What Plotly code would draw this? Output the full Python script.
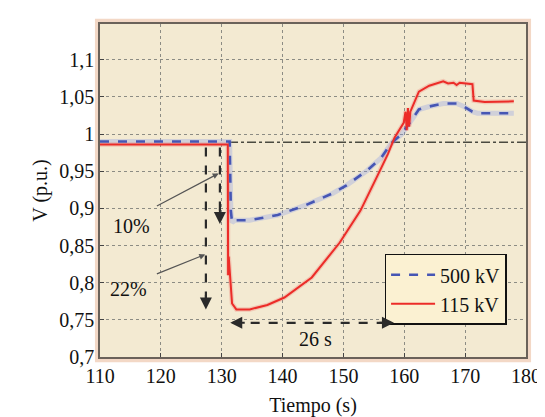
import plotly.graph_objects as go

# ---- data ----
t_500 = [110, 130.9, 131.3, 131.5, 131.7, 132.2, 134.6, 139.2, 143.7, 148.2, 150.5,
         153.9, 156.2, 157.9, 159.6, 160.7, 162.4, 164.1, 166.4, 168.6, 169.8,
         171.2, 172.0, 178.0]
v_500 = [0.990, 0.990, 0.990, 0.897, 0.881, 0.884, 0.884, 0.891, 0.904, 0.920, 0.931,
         0.951, 0.968, 0.988, 1.000, 1.013, 1.033, 1.037, 1.041, 1.041, 1.037,
         1.030, 1.028, 1.028]

t_115 = [110, 131.0, 131.05, 131.15, 131.7, 132.4, 134.6, 137.5, 140.3, 144.8, 149.4,
         152.8, 155.6, 157.3, 158.4, 159.9, 160.2, 160.4, 160.6, 160.8, 161.0, 161.6,
         162.4, 164.1, 166.4, 167.2, 168.1, 168.6, 169.1, 171.2, 171.4, 173.2, 178.0]
v_115 = [0.986, 0.986, 0.810, 0.835, 0.772, 0.764, 0.764, 0.770, 0.780, 0.807, 0.854,
         0.897, 0.944, 0.973, 0.995, 1.015, 1.030, 1.005, 1.035, 1.010, 1.030, 1.041,
         1.057, 1.065, 1.071, 1.068, 1.069, 1.066, 1.069, 1.067, 1.045, 1.043, 1.044]

ref_t = [131.2, 180]
ref_v = [0.989, 0.989]

arrow22_t = [127.4, 127.4]
arrow22_v = [0.982, 0.775]
arrow10_t = [129.7, 129.7]
arrow10_v = [0.982, 0.890]
span_t = [131.8, 157.9]
span_v = [0.746, 0.746]

x_ticks = [110, 120, 130, 140, 150, 160, 170, 180]
y_ticks = [0.7, 0.75, 0.8, 0.85, 0.9, 0.95, 1.0, 1.05, 1.1]
y_labels = ["0,7", "0,75", "0,8", "0,85", "0,9", "0,95", "1", "1,05", "1,1"]

labels = ["10%", "22%", "26 s"]
label_t = [115.1, 114.7, 145.4]
label_v = [0.876, 0.791, 0.724]

FONT = "Liberation Serif"
BG = "#F3EAD2"
FS = 20

fig = go.Figure()

fig.add_trace(go.Scatter(x=ref_t, y=ref_v, mode="lines", showlegend=False,
                         line=dict(color="#4a4a40", width=1.6, dash="dashdot"),
                         hoverinfo="skip"))
fig.add_trace(go.Scatter(x=t_500, y=v_500, mode="lines", showlegend=False,
                         line=dict(color="rgba(130,150,235,0.3)", width=5),
                         hoverinfo="skip"))
fig.add_trace(go.Scatter(x=t_115, y=v_115, mode="lines", showlegend=False,
                         line=dict(color="rgba(240,120,110,0.3)", width=4.5),
                         hoverinfo="skip"))
fig.add_trace(go.Scatter(x=t_500, y=v_500, mode="lines", name="500 kV",
                         line=dict(color="#4656B4", width=2.6, dash="dash")))
fig.add_trace(go.Scatter(x=t_115, y=v_115, mode="lines", name="115 kV",
                         line=dict(color="#EC2C28", width=2.0)))

for xs, ys in [(arrow22_t, arrow22_v), (arrow10_t, arrow10_v), (span_t, span_v)]:
    fig.add_trace(go.Scatter(x=xs, y=ys, mode="lines", showlegend=False,
                             line=dict(color="#2a2a2a", width=2.2, dash="dash"),
                             hoverinfo="skip"))

annotations = []
annotations.append(dict(x=arrow22_t[1], y=0.764, xref="x", yref="y", ax=0, ay=-16,
                        showarrow=True, arrowhead=2, arrowsize=1.2, arrowwidth=2,
                        arrowcolor="#2a2a2a", text=""))
annotations.append(dict(x=arrow10_t[1], y=0.879, xref="x", yref="y", ax=0, ay=-16,
                        showarrow=True, arrowhead=2, arrowsize=1.2, arrowwidth=2,
                        arrowcolor="#2a2a2a", text=""))
annotations.append(dict(x=131.4, y=span_v[0], xref="x", yref="y", ax=16, ay=0,
                        showarrow=True, arrowhead=2, arrowsize=1.2, arrowwidth=2,
                        arrowcolor="#2a2a2a", text=""))
annotations.append(dict(x=158.3, y=span_v[0], xref="x", yref="y", ax=-16, ay=0,
                        showarrow=True, arrowhead=2, arrowsize=1.2, arrowwidth=2,
                        arrowcolor="#2a2a2a", text=""))
annotations.append(dict(x=129.5, y=0.947, xref="x", yref="y", ax=119.1, ay=0.902,
                        axref="x", ayref="y", showarrow=True, arrowhead=2, arrowsize=1,
                        arrowwidth=1.2, arrowcolor="#555555", text=""))
annotations.append(dict(x=127.3, y=0.838, xref="x", yref="y", ax=119.1, ay=0.811,
                        axref="x", ayref="y", showarrow=True, arrowhead=2, arrowsize=1,
                        arrowwidth=1.2, arrowcolor="#555555", text=""))
for txt, tx, tv in zip(labels, label_t, label_v):
    annotations.append(dict(x=tx, y=tv, xref="x", yref="y", text=txt, showarrow=False,
                            font=dict(family=FONT, size=FS, color="#111111")))

fig.update_layout(
    width=545, height=417,
    margin=dict(l=92, r=24, t=16, b=62),
    paper_bgcolor="white",
    plot_bgcolor=BG,
    font=dict(family=FONT, size=FS, color="#111111"),
    annotations=annotations,
    shapes=[dict(type="rect", xref="paper", yref="paper", x0=-0.006, x1=1.006,
                 y0=-0.008, y1=1.008, line=dict(color="#F3D8C6", width=5),
                 layer="below")],
    legend=dict(x=0.668, y=0.31, xanchor="left", yanchor="top",
                bgcolor="#FBF1D2", bordercolor="#111111", borderwidth=1.5,
                font=dict(family=FONT, size=FS, color="#111111"),
                tracegroupgap=0, itemwidth=44),
    showlegend=True,
)

fig.update_xaxes(range=[110, 180], tickvals=x_ticks, ticktext=[str(v) for v in x_ticks],
                 tickfont=dict(family=FONT, size=FS),
                 showgrid=True, gridcolor="#8c8c84", griddash="dot", gridwidth=1,
                 showline=True, linecolor="#6a625a", linewidth=1.5, mirror=True,
                 ticks="inside", ticklen=4, tickcolor="#444", zeroline=False,
                 title=dict(text="Tiempo (s)", standoff=12,
                            font=dict(family=FONT, size=FS)))
fig.update_yaxes(range=[0.7, 1.148], tickvals=y_ticks, ticktext=y_labels,
                 tickfont=dict(family=FONT, size=FS),
                 showgrid=True, gridcolor="#8c8c84", griddash="dot", gridwidth=1,
                 showline=True, linecolor="#6a625a", linewidth=1.5, mirror=True,
                 ticks="inside", ticklen=4, tickcolor="#444", zeroline=False,
                 title=dict(text="V (p.u.)", standoff=6,
                            font=dict(family=FONT, size=FS)))

fig.write_html("out.html")
